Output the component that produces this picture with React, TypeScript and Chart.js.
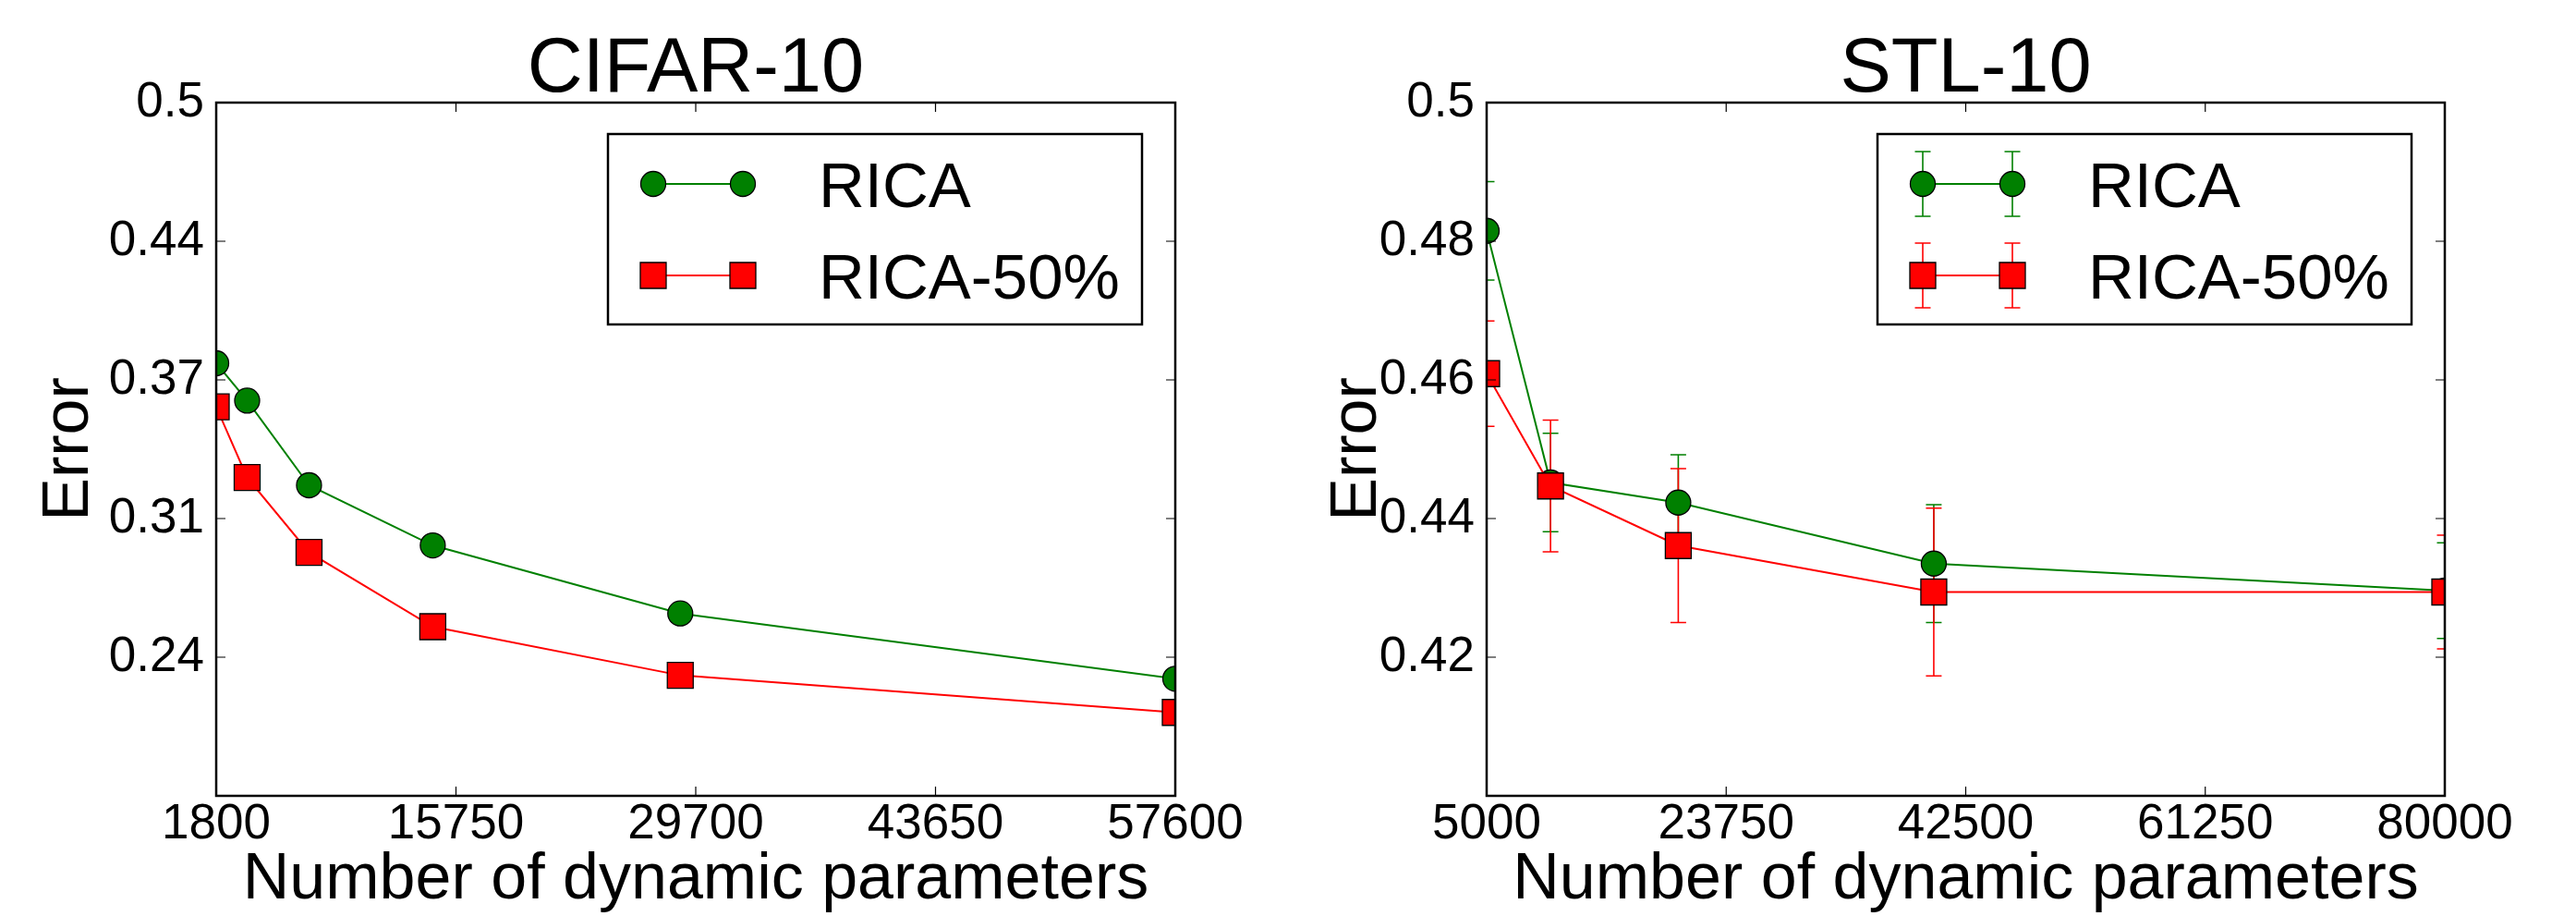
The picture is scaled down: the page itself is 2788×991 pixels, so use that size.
import React, { useEffect, useRef } from 'react';
import { Chart, registerables } from 'chart.js';

Chart.register(...registerables);

// ---------------- data ----------------
const SERIES_NAMES = ['RICA', 'RICA-50%'];

const CIFAR_PARAMS = [1800, 3600, 7200, 14400, 28800, 57600];
const CIFAR_RICA = [0.3778, 0.3603, 0.3206, 0.2924, 0.2605, 0.2299];
const CIFAR_RICA50 = [0.3574, 0.3242, 0.2891, 0.2543, 0.2315, 0.2141];
const CIFAR_X_TICKS = [1800, 15750, 29700, 43650, 57600];
const CIFAR_Y_TICKS = [0.175, 0.24, 0.305, 0.37, 0.435, 0.5];
const CIFAR_Y_LABELS = ['', '0.24', '0.31', '0.37', '0.44', '0.5'];

const STL_PARAMS = [5000, 10000, 20000, 40000, 80000];
const STL_RICA = [0.4815, 0.4452, 0.4423, 0.4335, 0.4296];
const STL_RICA_ERR = [0.0071, 0.0071, 0.0069, 0.0085, 0.0069];
const STL_RICA50 = [0.4609, 0.4447, 0.4361, 0.4294, 0.4294];
const STL_RICA50_ERR = [0.0076, 0.0095, 0.0111, 0.0121, 0.0082];
const STL_X_TICKS = [5000, 23750, 42500, 61250, 80000];
const STL_Y_TICKS = [0.4, 0.42, 0.44, 0.46, 0.48, 0.5];
const STL_Y_LABELS = ['', '0.42', '0.44', '0.46', '0.48', '0.5'];

// ---------------- styles ----------------
const GREEN = '#008000';
const RED = '#ff0000';
const FONT = "'Liberation Sans', Arial, Helvetica, sans-serif";

type PanelCfg = {
  title: string;
  xs: number[];
  a: number[];
  b: number[];
  aErr: number[] | null;
  bErr: number[] | null;
  xTicks: number[];
  yTicks: number[];
  yLabels: string[];
  yAxisWidth: number;
  rightPad: number;
};

const CIFAR_CFG: PanelCfg = {
  title: 'CIFAR-10',
  xs: CIFAR_PARAMS,
  a: CIFAR_RICA,
  b: CIFAR_RICA50,
  aErr: null,
  bErr: null,
  xTicks: CIFAR_X_TICKS,
  yTicks: CIFAR_Y_TICKS,
  yLabels: CIFAR_Y_LABELS,
  yAxisWidth: 234,
  rightPad: 122,
};

const STL_CFG: PanelCfg = {
  title: 'STL-10',
  xs: STL_PARAMS,
  a: STL_RICA,
  b: STL_RICA50,
  aErr: STL_RICA_ERR,
  bErr: STL_RICA50_ERR,
  xTicks: STL_X_TICKS,
  yTicks: STL_Y_TICKS,
  yLabels: STL_Y_LABELS,
  yAxisWidth: 215,
  rightPad: 142,
};

function drawMarker(ctx: CanvasRenderingContext2D, style: string, x: number, y: number, color: string) {
  ctx.save();
  ctx.fillStyle = color;
  ctx.strokeStyle = '#000';
  ctx.lineWidth = 1.3;
  ctx.beginPath();
  if (style === 'circle') {
    ctx.arc(x, y, 13.5, 0, Math.PI * 2);
  } else {
    ctx.rect(x - 14, y - 14, 28, 28);
  }
  ctx.fill();
  ctx.stroke();
  ctx.restore();
}

function makePlugin(cfg: PanelCfg) {
  return {
    id: 'mplDecor',
    beforeDatasetsDraw(chart: any) {
      if (!cfg.aErr || !cfg.bErr) return;
      const { ctx, chartArea } = chart;
      const xs = chart.scales.x;
      const ys = chart.scales.y;
      ctx.save();
      ctx.beginPath();
      ctx.rect(chartArea.left, chartArea.top, chartArea.right - chartArea.left, chartArea.bottom - chartArea.top);
      ctx.clip();
      const sets: [number[], number[], string][] = [
        [cfg.a, cfg.aErr, GREEN],
        [cfg.b, cfg.bErr, RED],
      ];
      sets.forEach(([vals, errs, color]) => {
        ctx.strokeStyle = color;
        ctx.lineWidth = 1.6;
        vals.forEach((v, i) => {
          const px = xs.getPixelForValue(cfg.xs[i]);
          const pTop = ys.getPixelForValue(v + errs[i]);
          const pBot = ys.getPixelForValue(v - errs[i]);
          ctx.beginPath();
          ctx.moveTo(px, pTop);
          ctx.lineTo(px, pBot);
          ctx.moveTo(px - 8.5, pTop);
          ctx.lineTo(px + 8.5, pTop);
          ctx.moveTo(px - 8.5, pBot);
          ctx.lineTo(px + 8.5, pBot);
          ctx.stroke();
        });
      });
      ctx.restore();
    },
    afterDraw(chart: any) {
      const { ctx, chartArea } = chart;
      const { left, right, top, bottom } = chartArea;
      const xs = chart.scales.x;
      const ys = chart.scales.y;
      ctx.save();
      // inward ticks on all four sides
      ctx.strokeStyle = '#000';
      ctx.lineWidth = 1.2;
      ctx.beginPath();
      cfg.xTicks.forEach((v) => {
        const px = xs.getPixelForValue(v);
        ctx.moveTo(px, bottom);
        ctx.lineTo(px, bottom - 10);
        ctx.moveTo(px, top);
        ctx.lineTo(px, top + 10);
      });
      cfg.yTicks.forEach((v) => {
        const py = ys.getPixelForValue(v);
        ctx.moveTo(left, py);
        ctx.lineTo(left + 10, py);
        ctx.moveTo(right, py);
        ctx.lineTo(right - 10, py);
      });
      ctx.stroke();
      // frame
      ctx.lineWidth = 2.5;
      ctx.strokeRect(left, top, right - left, bottom - top);
      // title
      ctx.fillStyle = '#000';
      ctx.font = `83px ${FONT}`;
      ctx.textAlign = 'center';
      ctx.textBaseline = 'alphabetic';
      ctx.fillText(cfg.title, (left + right) / 2, 99);
      // legend
      const boxW = 578;
      const boxH = 206;
      const bx = right - 36 - boxW;
      const by = top + 34;
      ctx.fillStyle = '#fff';
      ctx.fillRect(bx, by, boxW, boxH);
      ctx.lineWidth = 2.5;
      ctx.strokeStyle = '#000';
      ctx.strokeRect(bx, by, boxW, boxH);
      const rows = [
        { name: SERIES_NAMES[0], color: GREEN, style: 'circle', y: by + 54 },
        { name: SERIES_NAMES[1], color: RED, style: 'rect', y: by + 153 },
      ];
      const x1 = bx + 49;
      const x2 = bx + 146;
      rows.forEach((r) => {
        ctx.strokeStyle = r.color;
        ctx.lineWidth = 2;
        ctx.beginPath();
        ctx.moveTo(x1, r.y);
        ctx.lineTo(x2, r.y);
        ctx.stroke();
        if (cfg.aErr) {
          ctx.lineWidth = 1.6;
          ctx.beginPath();
          [x1, x2].forEach((mx) => {
            ctx.moveTo(mx, r.y - 35);
            ctx.lineTo(mx, r.y + 35);
            ctx.moveTo(mx - 8.5, r.y - 35);
            ctx.lineTo(mx + 8.5, r.y - 35);
            ctx.moveTo(mx - 8.5, r.y + 35);
            ctx.lineTo(mx + 8.5, r.y + 35);
          });
          ctx.stroke();
        }
        drawMarker(ctx, r.style, x1, r.y, r.color);
        drawMarker(ctx, r.style, x2, r.y, r.color);
        ctx.fillStyle = '#000';
        ctx.font = `69px ${FONT}`;
        ctx.textAlign = 'left';
        ctx.textBaseline = 'alphabetic';
        ctx.fillText(r.name, bx + 228, r.y + 25);
      });
      ctx.restore();
    },
  };
}

function Panel({ cfg, left }: { cfg: PanelCfg; left: number }) {
  const ref = useRef<HTMLCanvasElement | null>(null);
  useEffect(() => {
    const canvas = ref.current;
    if (!canvas) return;
    const xMin = cfg.xTicks[0];
    const xMax = cfg.xTicks[cfg.xTicks.length - 1];
    const yMin = cfg.yTicks[0];
    const yMax = cfg.yTicks[cfg.yTicks.length - 1];
    const chart = new Chart(canvas, {
      type: 'line',
      data: {
        datasets: [
          {
            label: SERIES_NAMES[0],
            data: cfg.xs.map((x, i) => ({ x, y: cfg.a[i] })),
            borderColor: GREEN,
            backgroundColor: GREEN,
            pointBackgroundColor: GREEN,
            pointBorderColor: '#000',
            pointBorderWidth: 1.3,
            pointRadius: 13.5,
            pointStyle: 'circle',
            borderWidth: 2,
            tension: 0,
            clip: 0,
            order: 2,
          },
          {
            label: SERIES_NAMES[1],
            data: cfg.xs.map((x, i) => ({ x, y: cfg.b[i] })),
            borderColor: RED,
            backgroundColor: RED,
            pointBackgroundColor: RED,
            pointBorderColor: '#000',
            pointBorderWidth: 1.3,
            pointRadius: 19.8,
            pointStyle: 'rect',
            borderWidth: 2,
            tension: 0,
            clip: 0,
            order: 1,
          },
        ],
      } as any,
      options: {
        responsive: false,
        animation: false,
        devicePixelRatio: 1,
        events: [],
        layout: { padding: { left: 0, right: cfg.rightPad, top: 111, bottom: 0 } },
        plugins: {
          legend: { display: false },
          tooltip: { enabled: false },
          title: { display: false },
        },
        scales: {
          x: {
            type: 'linear',
            min: xMin,
            max: xMax,
            grid: { display: false, drawTicks: false },
            border: { display: false },
            afterBuildTicks: (s: any) => {
              s.ticks = cfg.xTicks.map((v) => ({ value: v }));
            },
            afterFit: (s: any) => {
              s.height = 130;
            },
            ticks: {
              autoSkip: false,
              maxRotation: 0,
              minRotation: 0,
              padding: 0,
              color: '#000',
              font: { family: FONT, size: 53 },
              callback: (v: any) => String(v),
            },
            title: {
              display: true,
              text: 'Number of dynamic parameters',
              color: '#000',
              font: { family: FONT, size: 70, lineHeight: 1 },
              padding: { top: 0, bottom: 3 },
            },
          },
          y: {
            type: 'linear',
            min: yMin,
            max: yMax,
            grid: { display: false, drawTicks: false },
            border: { display: false },
            afterBuildTicks: (s: any) => {
              s.ticks = cfg.yTicks.map((v) => ({ value: v }));
            },
            afterFit: (s: any) => {
              s.width = cfg.yAxisWidth;
            },
            ticks: {
              autoSkip: false,
              padding: 13,
              color: '#000',
              font: { family: FONT, size: 53 },
              callback: (v: any) => {
                let best = 0;
                cfg.yTicks.forEach((t, i) => {
                  if (Math.abs(t - v) < Math.abs(cfg.yTicks[best] - v)) best = i;
                });
                return cfg.yLabels[best];
              },
            },
            title: {
              display: true,
              text: 'Error',
              color: '#000',
              font: { family: FONT, size: 70, lineHeight: 1 },
              padding: { top: 41, bottom: 0 },
            },
          },
        },
      } as any,
      plugins: [makePlugin(cfg)],
    });
    return () => chart.destroy();
  }, [cfg]);
  return (
    <canvas
      ref={ref}
      width={1394}
      height={991}
      style={{ position: 'absolute', left, top: 0, width: 1394, height: 991, display: 'block' }}
    />
  );
}

export default function App() {
  useEffect(() => {
    document.body.style.margin = '0';
  }, []);
  return (
    <div style={{ position: 'relative', width: 2788, height: 991, background: '#fff', overflow: 'hidden' }}>
      <Panel cfg={CIFAR_CFG} left={0} />
      <Panel cfg={STL_CFG} left={1394} />
    </div>
  );
}
